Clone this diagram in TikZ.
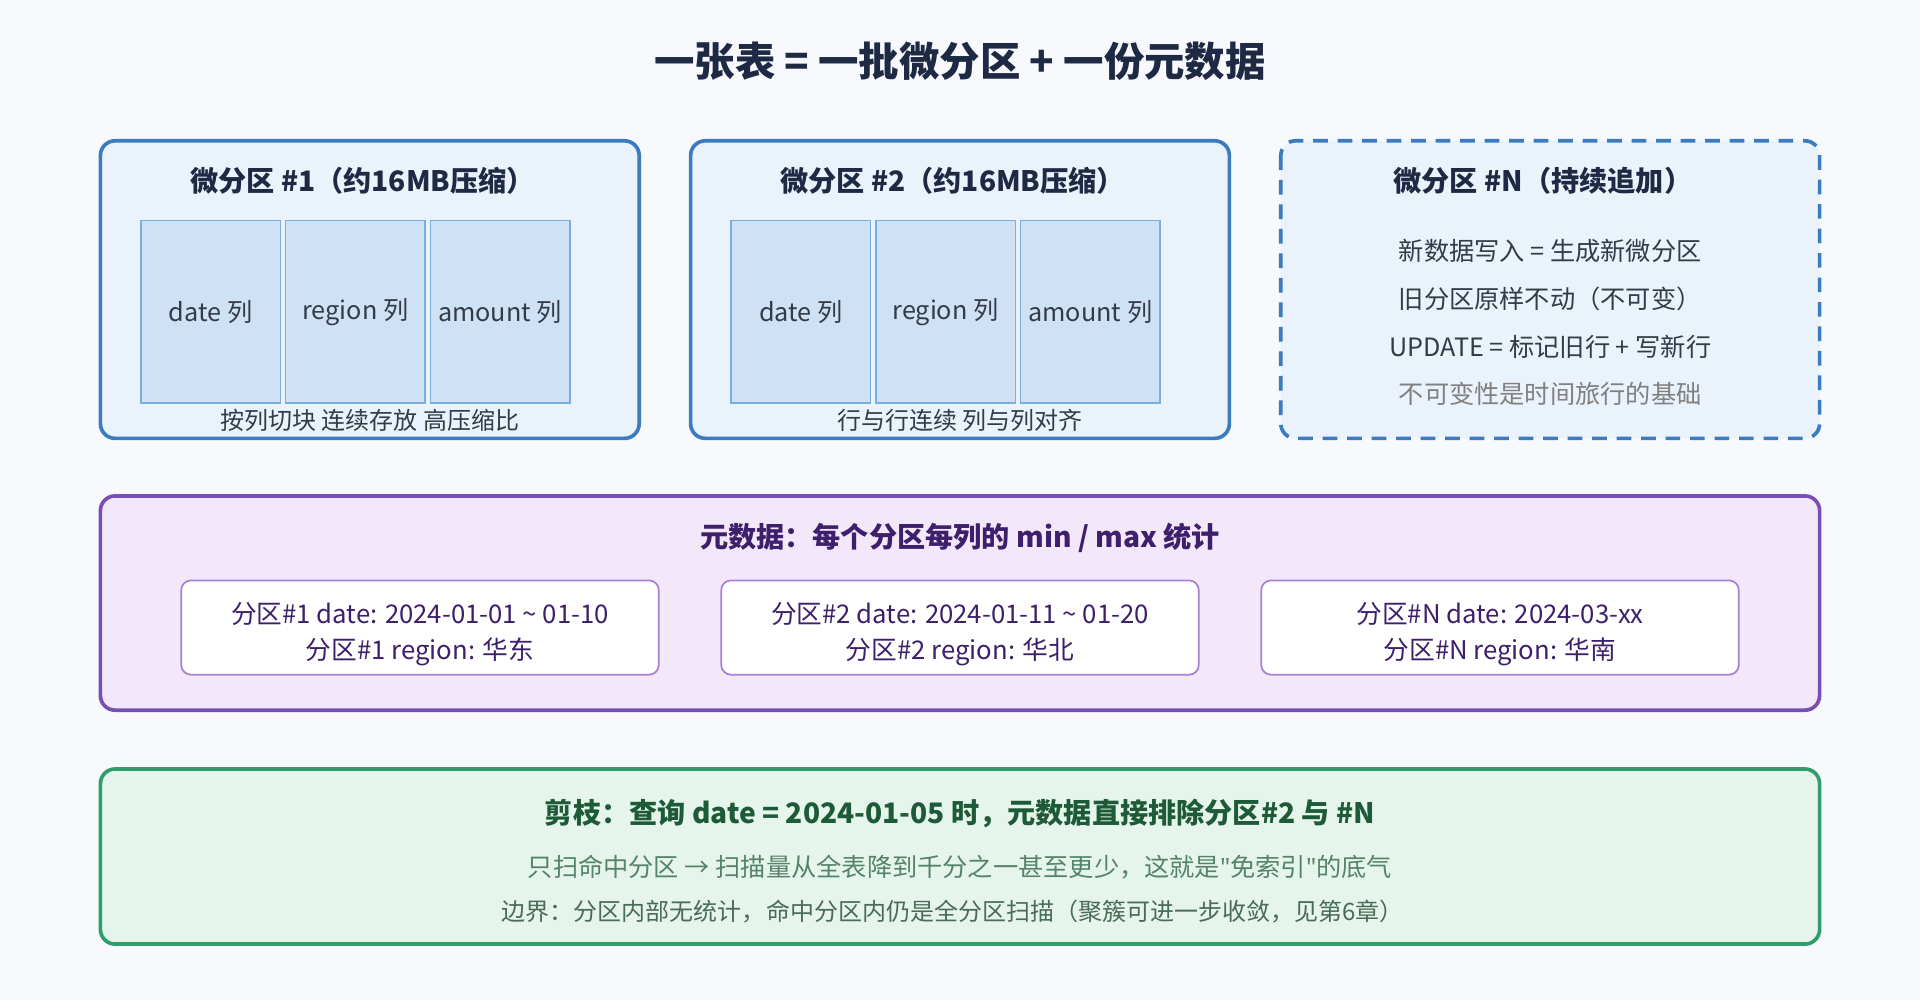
\documentclass[tikz,border=0pt]{standalone}
\usepackage{fontspec}
\setmainfont{Noto Sans CJK SC}
\newfontfamily\quotefont{Noto Sans}
\usetikzlibrary{positioning}
\definecolor{bgpage}{HTML}{F7F9FC}
\definecolor{titlenavy}{HTML}{1E2A44}
\definecolor{partblue}{HTML}{3B7BBF}
\definecolor{partfill}{HTML}{EAF2FB}
\definecolor{colfill}{HTML}{CFE2F5}
\definecolor{colline}{HTML}{7AAEE0}
\definecolor{metapurple}{HTML}{7A4FB5}
\definecolor{metafill}{HTML}{F3E8FA}
\definecolor{metatext}{HTML}{3D1F6B}
\definecolor{statline}{HTML}{A77FD6}
\definecolor{prunegreen}{HTML}{2E9E6A}
\definecolor{prunefill}{HTML}{E6F5EC}
\definecolor{prunetext}{HTML}{1D5A37}
\definecolor{textgray}{HTML}{333B48}
\tikzset{
    part/.style={draw=partblue, fill=partfill, line width=1.5pt, rounded corners=6pt},
    col/.style={draw=colline, fill=colfill, line width=0.6pt, minimum width=57pt, minimum height=74.5pt, inner sep=0pt, font=\fontsize{10.3}{12}\selectfont, text=textgray},
    head/.style={font=\bfseries\fontsize{11.5}{13}\selectfont, text=titlenavy},
    note/.style={font=\fontsize{9.8}{12}\selectfont, text=textgray},
    statbox/.style={draw=statline, fill=white, line width=0.7pt, rounded corners=4pt, minimum width=195pt, minimum height=38.5pt},
    stat/.style={align=center, font=\fontsize{10.5}{14.5}\selectfont, text=metatext}
}
\begin{document}
\begin{tikzpicture}[x=0.5pt, y=-0.5pt]
    \fill[bgpage] (0,0) rectangle (1568,817);
    \useasboundingbox (0,0) rectangle (1568,817);

    \node[font=\bfseries\fontsize{16.5}{19}\selectfont, text=titlenavy] (title) at (784,50) {一张表 = 一批微分区 + 一份元数据};

    % Micro-partitions
    \draw[part] (82,115) rectangle (522,358);
    \node[head] (p1) at (296,148) {微分区 \#1（约16MB压缩）};
    \node[col] (p1date) at (172,254.5) {date 列};
    \node[col] (p1region) [right=1.5pt of p1date] {region 列};
    \node[col] (p1amount) [right=1.5pt of p1region] {amount 列};
    \node[note] (p1note) at (302,343) {按列切块 连续存放 高压缩比};

    \draw[part] (564,115) rectangle (1004,358);
    \node[head] (p2) at (778,148) {微分区 \#2（约16MB压缩）};
    \node[col] (p2date) at (654,254.5) {date 列};
    \node[col] (p2region) [right=1.5pt of p2date] {region 列};
    \node[col] (p2amount) [right=1.5pt of p2region] {amount 列};
    \node[note] (p2note) at (784,343) {行与行连续 列与列对齐};

    \draw[part, dashed, dash pattern=on 6pt off 4pt] (1046,115) rectangle (1486,358);
    \node[head] (pn) at (1260,148) {微分区 \#N（持续追加）};
    \node[note, font=\fontsize{10.3}{12}\selectfont] (pn1) at (1266,205) {新数据写入 = 生成新微分区};
    \node[note, font=\fontsize{10.3}{12}\selectfont] (pn2) at (1266,244) {旧分区原样不动（不可变）};
    \node[note, font=\fontsize{10.3}{12}\selectfont] (pn3) at (1266,283) {UPDATE = 标记旧行 + 写新行};
    \node[note, font=\fontsize{10.3}{12}\selectfont, text=gray] (pn4) at (1266,322) {不可变性是时间旅行的基础};

    % Metadata
    \draw[draw=metapurple, fill=metafill, line width=1.5pt, rounded corners=6pt] (82,405) rectangle (1486,580);
    \node[head, text=metatext] (meta) at (784,439) {元数据：每个分区每列的 min / max 统计};
    \node[statbox] (s1) at (343,512.5) {};
    \node[statbox] (s2) at (784,512.5) {};
    \node[statbox] (sn) at (1225,512.5) {};
    \node[stat] (s1text) at (343,518) {分区\#1 date: 2024-01-01 \textasciitilde{} 01-10\\分区\#1 region: 华东};
    \node[stat] (s2text) at (784,518) {分区\#2 date: 2024-01-11 \textasciitilde{} 01-20\\分区\#2 region: 华北};
    \node[stat] (sntext) at (1225,518) {分区\#N date: 2024-03-xx\\分区\#N region: 华南};

    % Pruning
    \draw[draw=prunegreen, fill=prunefill, line width=1.5pt, rounded corners=6pt] (82,628) rectangle (1486,771);
    \node[head, text=prunetext] (prune) at (784,664) {剪枝：查询 date = 2024-01-05 时，元数据直接排除分区\#2 与 \#N};
    \node[note, font=\fontsize{10.3}{12}\selectfont, text=prunetext!75] (prune1) at (784,708) {只扫命中分区 → 扫描量从全表降到千分之一甚至更少，这就是{\quotefont "}免索引{\quotefont "}的底气};
    \node[note, text=prunetext!55!gray] (prune2) at (778,744) {边界：分区内部无统计，命中分区内仍是全分区扫描（聚簇可进一步收敛，见第6章）};
\end{tikzpicture}
\end{document}
